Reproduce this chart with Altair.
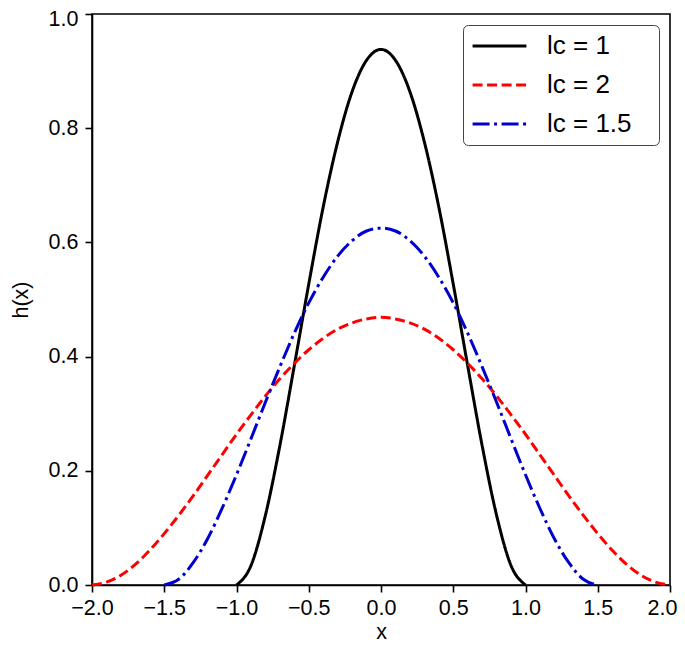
import altair as alt
import numpy as np
import pandas as pd

# x grids (step 0.1)
x_lc1 = [round(v, 1) for v in np.arange(-1.0, 1.0001, 0.1)]
x_lc15 = [round(v, 1) for v in np.arange(-1.5, 1.5001, 0.1)]
x_lc2 = [round(v, 1) for v in np.arange(-2.0, 2.0001, 0.1)]

h_lc1 = [0, 0.034, 0.122, 0.244, 0.384, 0.527, 0.662, 0.776, 0.864, 0.919, 0.938,
         0.919, 0.864, 0.776, 0.662, 0.527, 0.384, 0.244, 0.122, 0.034, 0]
h_lc15 = [0, 0.010, 0.039, 0.081, 0.134, 0.193, 0.256, 0.320, 0.382, 0.441, 0.494,
          0.539, 0.576, 0.603, 0.620, 0.625, 0.620, 0.603, 0.576, 0.539, 0.494,
          0.441, 0.382, 0.320, 0.256, 0.193, 0.134, 0.081, 0.039, 0.010, 0]
h_lc2 = [0, 0.005, 0.017, 0.036, 0.061, 0.090, 0.122, 0.156, 0.192, 0.228, 0.264,
         0.298, 0.331, 0.361, 0.388, 0.412, 0.432, 0.448, 0.459, 0.466, 0.469,
         0.466, 0.459, 0.448, 0.432, 0.412, 0.388, 0.361, 0.331, 0.298, 0.264,
         0.228, 0.192, 0.156, 0.122, 0.090, 0.061, 0.036, 0.017, 0.005, 0]

series = ["lc = 1", "lc = 2", "lc = 1.5"]
colors = ["#000000", "#ff0000", "#0000cc"]
dashes = [[1, 0], [10, 4.5], [17, 4.5, 3, 4.5]]

rows = []
for name, xs, hs in [("lc = 1", x_lc1, h_lc1), ("lc = 2", x_lc2, h_lc2), ("lc = 1.5", x_lc15, h_lc15)]:
    for xv, hv in zip(xs, hs):
        rows.append({"x": xv, "h": hv, "series": name})
df = pd.DataFrame(rows)

FONT = "Liberation Sans"
AX = dict(grid=False, domainColor="#000", tickColor="#000", domainWidth=1.6, tickWidth=1.6,
          tickSize=7, labelFontSize=21.5, titleFontSize=21.5, labelColor="#000", titleColor="#000",
          titleFontWeight="normal", labelFont=FONT, titleFont=FONT, format=".1f",
          labelFlush=False,
          labelExpr="replace(datum.label, '-', '\u2212')")

chart = alt.Chart(df).mark_line(interpolate="monotone", strokeWidth=3).encode(
    x=alt.X("x:Q", title="x",
            scale=alt.Scale(domain=[-2, 2], nice=False, zero=False),
            axis=alt.Axis(values=[-2, -1.5, -1, -0.5, 0, 0.5, 1, 1.5, 2],
                          labelPadding=5, titlePadding=3,
                          labelOffset={"condition": {"test": "datum.value == 2", "value": -8}, "value": 0},
                          **AX)),
    y=alt.Y("h:Q", title="h(x)",
            scale=alt.Scale(domain=[0, 1], nice=False),
            axis=alt.Axis(values=[0, 0.2, 0.4, 0.6, 0.8, 1.0],
                          labelPadding=7, titlePadding=16,
                          labelOffset={"condition": {"test": "datum.value == 1", "value": 5}, "value": 0},
                          **AX)),
    color=alt.Color("series:N", scale=alt.Scale(domain=series, range=colors),
                    legend=alt.Legend(title=None, orient="none", legendX=371, legendY=11,
                                      symbolType="stroke", symbolSize=2900, symbolStrokeWidth=3,
                                      clipHeight=26, rowPadding=13, padding=8,
                                      labelFontSize=26, labelFont=FONT, labelColor="#000",
                                      labelExpr="datum.label + '\u2800'", labelLimit=400,
                                      labelOffset=19,
                                      strokeColor="#444", fillColor="white", cornerRadius=5)),
    strokeDash=alt.StrokeDash("series:N", scale=alt.Scale(domain=series, range=dashes), legend=None),
    order=alt.Order("x:Q"),
).properties(
    width=578, height=571,
    autosize=alt.AutoSizeParams(type="none"),
    padding={"left": 84, "top": 6, "right": 7, "bottom": 60},
).configure_view(stroke="#000", strokeWidth=1.6)

chart.save("out.html", embed_options={"renderer": "svg", "actions": False})
